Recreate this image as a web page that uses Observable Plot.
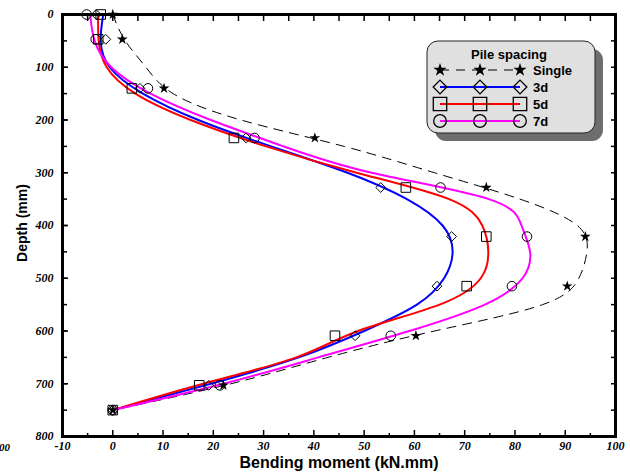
<!DOCTYPE html>
<html><head><meta charset="utf-8">
<script src="https://cdn.jsdelivr.net/npm/d3@7"></script>
<script src="https://cdn.jsdelivr.net/npm/@observablehq/plot@0.6"></script>
<style>
body{margin:0;background:#fff;}
#chart{width:630px;height:472px;}
</style></head><body><div id="chart"></div>
<script>
// Marker (measured) data
const depthM = [0, 47, 140, 234, 328, 421, 515, 609, 703, 750];
const singleM = [0, 1.9, 10.2, 40.2, 74.3, 94.0, 90.4, 60.3, 22.0, 0];
const d3M = [-3.3, -1.4, 5.4, 26.5, 53.3, 67.4, 64.5, 48.2, 19.1, 0];
const d5M = [-2.4, -2.9, 3.8, 24.1, 58.3, 74.3, 70.4, 44.2, 17.2, 0];
const d7M = [-5.2, -3.4, 7.0, 28.2, 65.2, 82.4, 79.4, 55.3, 21.3, 0];

// Fitted curves
const depthC = [0, 50, 100, 150, 200, 250, 300, 350, 400, 450, 500, 550, 600, 650, 700, 750];
const singleC = [0, 2.5, 6.6, 12, 25.5, 46, 64, 81, 92.4, 94.3, 92.7, 85.5, 64, 42.8, 23.5, 0];
const d3C = [-1.9, -2.4, -0.6, 6, 17, 31.5, 46.7, 58.5, 65.6, 67.6, 65.9, 60.5, 50, 37, 19.5, 0];
const d5C = [-2.9, -2.8, -1.2, 4.5, 15.5, 30.5, 48.5, 66.9, 73.5, 74.7, 73.2, 65, 48.8, 36.5, 18, 0];
const d7C = [-4.5, -3.6, -0.3, 7.5, 19.5, 34, 51.5, 74.8, 81.3, 83, 81.5, 74, 59, 40.9, 22, 0];

const seriesNames = ["Single", "3d", "5d", "7d"];
const seriesColors = ["black", "#0000ff", "#ff0000", "#ff00ff"];
const seriesSymbols = ["star", "diamond2", "square", "circle"];
const markerVals = [singleM, d3M, d5M, d7M];
const curveVals = [singleC, d3C, d5C, d7C];

const xMajor = d3.range(-10, 101, 10);
const xMinor = d3.range(-5, 100, 10);
const xAll = d3.range(-10, 101, 5);
const yMajor = d3.range(0, 801, 100);
const yAll = d3.range(0, 801, 50);

const marks = [];
seriesNames.forEach((name, k) => {
  const rows = depthC.map((d, i) => ({depth: d, moment: curveVals[k][i]}));
  marks.push(Plot.line(rows, {
    x: "moment", y: "depth", curve: "natural",
    stroke: seriesColors[k],
    strokeWidth: k === 0 ? 1 : 2,
    strokeDasharray: k === 0 ? "9,7" : null
  }));
});
seriesNames.forEach((name, k) => {
  const rows = depthM.map((d, i) => ({depth: d, moment: markerVals[k][i]}));
  const sym = seriesSymbols[k];
  const r = sym === "star" ? 3.4 : sym === "square" ? 5.4 : sym === "circle" ? 4.8 : 4.4;
  marks.push(Plot.dot(rows, {
    x: "moment", y: "depth", symbol: () => sym, r,
    fill: sym === "star" ? "black" : "none",
    stroke: sym === "star" ? "none" : "black",
    strokeWidth: 1
  }));
});

const plot = Plot.plot({
  width: 630, height: 472,
  marginLeft: 62, marginRight: 15, marginTop: 14, marginBottom: 36,
  x: {domain: [-10, 100]},
  y: {domain: [0, 800], reverse: true},
  style: {background: "white", color: "black"},
  marks: [
    // bottom
    Plot.axisX({anchor: "bottom", ticks: xMinor, tickSize: -3, tickFormat: () => "", label: null, strokeWidth: 1.5}),
    Plot.axisX({anchor: "bottom", ticks: xMajor, tickSize: -6, tickPadding: 11, tickFormat: d => String(d), label: null, strokeWidth: 1.5}),
    // top
    Plot.axisX({anchor: "top", ticks: xAll, tickSize: -6, tickFormat: () => "", label: null, strokeWidth: 1.5}),
    // left
    Plot.axisY({anchor: "left", ticks: yAll, tickSize: -5, tickFormat: () => "", label: null, strokeWidth: 1.5}),
    Plot.axisY({anchor: "left", ticks: yMajor, tickSize: -6, tickPadding: 15, tickFormat: d => String(d), label: null, strokeWidth: 1.5}),
    // right
    Plot.axisY({anchor: "right", ticks: yAll, tickSize: -5, tickFormat: () => "", label: null, strokeWidth: 1.5}),
    ...marks,
    Plot.frame({stroke: "black", strokeWidth: 3})
  ]
});

const svg = d3.select(plot);
svg.selectAll('g[aria-label="x-axis tick label"], g[aria-label="y-axis tick label"]')
  .style("font-family", "'Liberation Serif', 'Times New Roman', serif")
  .style("font-weight", "bold").style("font-style", "italic").style("font-size", "12px");

// axis titles
svg.append("text").attr("x", 339).attr("y", 468).attr("text-anchor", "middle")
  .attr("font-family", "'Liberation Sans', Arial, sans-serif").attr("font-weight", "bold").attr("font-size", 16)
  .attr("fill", "black").text("Bending moment (kN.mm)");
svg.append("text").attr("transform", "translate(27,223) rotate(-90)").attr("text-anchor", "middle")
  .attr("font-family", "'Liberation Sans Narrow', 'Liberation Sans', Arial, sans-serif").attr("font-weight", "bold").attr("font-size", 14)
  .attr("fill", "black").text("Depth (mm)");
svg.append("text").attr("x", -1).attr("y", 451).attr("text-anchor", "start")
  .attr("font-family", "'Liberation Serif', serif").attr("font-weight", "bold").attr("font-style", "italic").attr("font-size", 11)
  .attr("fill", "black").text("00");

// legend
const lg = svg.append("g").attr("text-anchor", "start");
lg.append("rect").attr("x", 435).attr("y", 49).attr("width", 168).attr("height", 92).attr("rx", 11).attr("fill", "#6e6e6e");
lg.append("rect").attr("x", 427).attr("y", 41).attr("width", 168).attr("height", 92).attr("rx", 11)
  .attr("fill", "#e0e0e0").attr("stroke", "#222").attr("stroke-width", 1);
lg.append("text").attr("x", 509).attr("y", 59).attr("text-anchor", "middle")
  .attr("font-family", "'Liberation Sans', Arial, sans-serif").attr("font-weight", "bold").attr("font-size", 13)
  .attr("fill", "black").text("Pile spacing");
const symTypes = {star: d3.symbolStar, diamond2: d3.symbolDiamond2, square: d3.symbolSquare, circle: d3.symbolCircle};
const symSizes = {star: 55, diamond2: 120, square: 180, circle: 125};
const rowY = [70, 87, 104, 121];
const mx = [440, 480, 520];
seriesNames.forEach((name, k) => {
  const y = rowY[k];
  lg.append("line").attr("x1", mx[0]).attr("x2", mx[2]).attr("y1", y).attr("y2", y)
    .attr("stroke", seriesColors[k]).attr("stroke-width", k === 0 ? 1 : 2)
    .attr("stroke-dasharray", k === 0 ? "9,7" : null);
  const sym = seriesSymbols[k];
  mx.forEach(x => {
    lg.append("path").attr("transform", `translate(${x},${y})`)
      .attr("d", d3.symbol().type(symTypes[sym]).size(symSizes[sym])())
      .attr("fill", sym === "star" ? "black" : "none")
      .attr("stroke", sym === "star" ? "none" : "black").attr("stroke-width", 1.3);
  });
  lg.append("text").attr("x", 533).attr("y", y + 5).attr("text-anchor", "start")
    .attr("font-family", "'Liberation Sans', Arial, sans-serif").attr("font-weight", "bold").attr("font-size", 13)
    .attr("fill", "black").text(name);
});

document.getElementById("chart").appendChild(plot);
</script>
</body></html>
